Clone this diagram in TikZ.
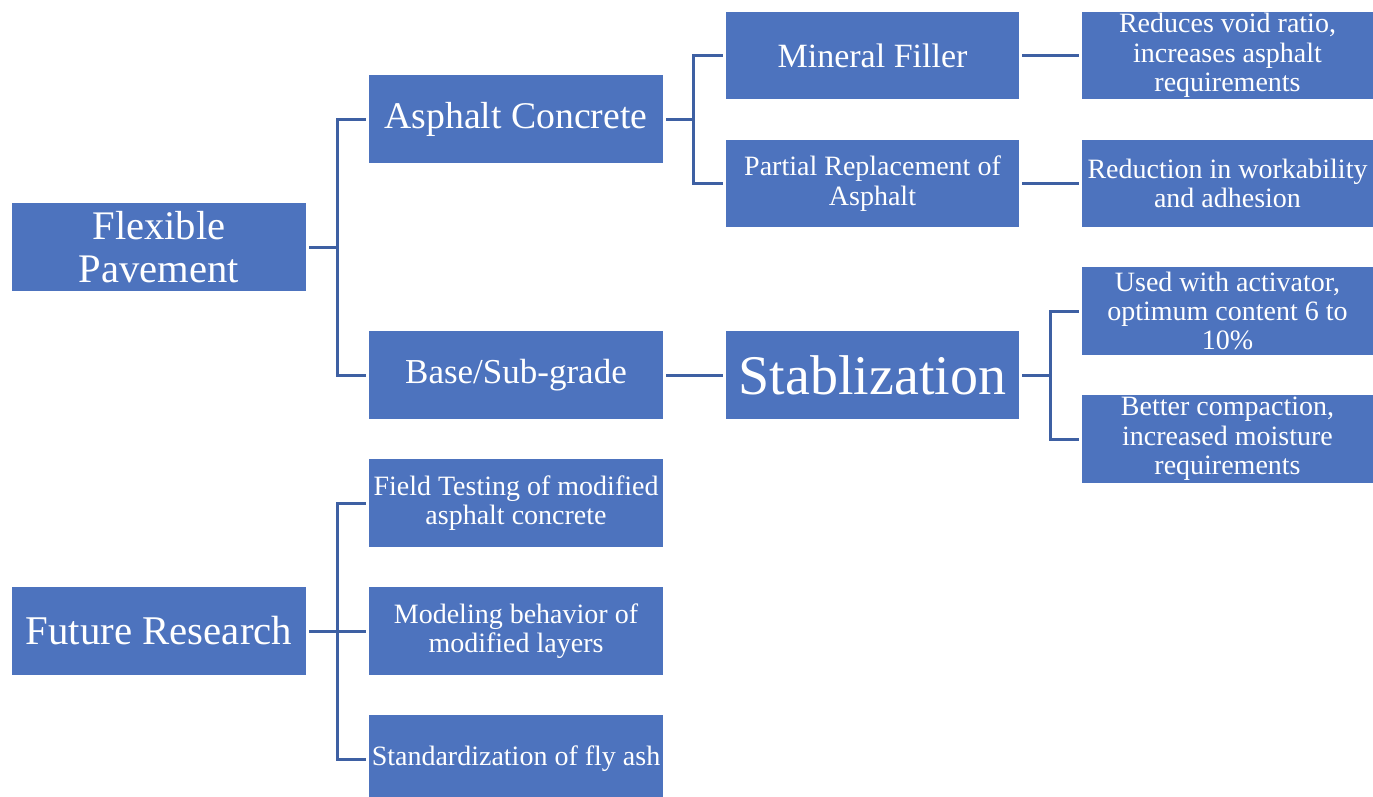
\documentclass[tikz,border=0pt]{standalone}
\usepackage{fontspec}
\setmainfont{Liberation Serif}
\definecolor{boxblue}{RGB}{77,115,190}
\definecolor{connblue}{RGB}{62,96,163}
\begin{document}
\begin{tikzpicture}[x=1pt,y=-1pt,
  box/.style={fill=boxblue,text=white,inner sep=0pt,minimum height=88pt,align=center},
  wa/.style={minimum width=294pt},
  wb/.style={minimum width=293pt},
  wc/.style={minimum width=291pt},
  small/.style={font=\fontsize{28}{29.3}\selectfont},
  conn/.style={draw=connblue,line width=3pt}]
\useasboundingbox (0,0) rectangle (1373,796);
\clip (0,0) rectangle (1373,796);
% column 1
\node[box,wa,font=\fontsize{40.6}{43}\selectfont] (FP) at (159,247) {Flexible\\Pavement};
\node[box,wa,font=\fontsize{40.8}{43}\selectfont] (FR) at (159,631) {Future Research};
% column 2
\node[box,wa,font=\fontsize{37.7}{40}\selectfont] (AC) at (516,119) {Asphalt Concrete};
\node[box,wa,font=\fontsize{35}{38}\selectfont] (BS) at (516,375) {Base/Sub-grade};
\node[box,wa,small] (FT) at (516,503) {Field Testing of modified\\asphalt concrete};
\node[box,wa,small] (MB) at (516,631) {Modeling behavior of\\modified layers};
\node[box,wa,small] (SF) at (516,759) {Standardization of fly ash};
% column 3
\node[box,wb,font=\fontsize{34}{37}\selectfont,minimum height=87pt] (MF) at (872.5,55.5) {Mineral Filler};
\node[box,wb,small,minimum height=87pt] (PR) at (872.5,183.5) {Partial Replacement of\\Asphalt};
\node[box,wb,font=\fontsize{56}{60}\selectfont] (ST) at (872.5,375) {Stablization};
% column 4
\node[box,wc,small,minimum height=87pt] (RV) at (1227.5,55.5) {Reduces void ratio,\\increases asphalt\\requirements};
\node[box,wc,small,minimum height=87pt] (RW) at (1227.5,183.5) {Reduction in workability\\and adhesion};
\node[box,wc,small] (UA) at (1227.5,311) {Used with activator,\\optimum content 6 to\\10\%};
\node[box,wc,small] (BC) at (1227.5,439) {Better compaction,\\increased moisture\\requirements};
% trunk coordinates
\coordinate (t1) at (337,247);
\coordinate (t2) at (693,119);
\coordinate (t3) at (1050,375);
\coordinate (t4) at (337,631);
% connectors
\draw[conn] ([xshift=3pt]FP.east) -- (t1);
\draw[conn] ([xshift=-3pt]AC.west) -| (t1) |- ([xshift=-3pt]BS.west);
\draw[conn] ([xshift=3pt]AC.east) -- (t2);
\draw[conn] ([xshift=-3pt]MF.west) -| (t2) |- ([xshift=-3pt]PR.west);
\draw[conn] ([xshift=3pt]BS.east) -- ([xshift=-3pt]ST.west);
\draw[conn] ([xshift=3pt]MF.east) -- ([xshift=-3pt]RV.west);
\draw[conn] ([xshift=3pt]PR.east) -- ([xshift=-3pt]RW.west);
\draw[conn] ([xshift=3pt]ST.east) -- (t3);
\draw[conn] ([xshift=-3pt]UA.west) -| (t3) |- ([xshift=-3pt]BC.west);
\draw[conn] ([xshift=3pt]FR.east) -- ([xshift=-3pt]MB.west);
\draw[conn] ([xshift=-3pt]FT.west) -| (t4) |- ([xshift=-3pt]SF.west);
\end{tikzpicture}
\end{document}
